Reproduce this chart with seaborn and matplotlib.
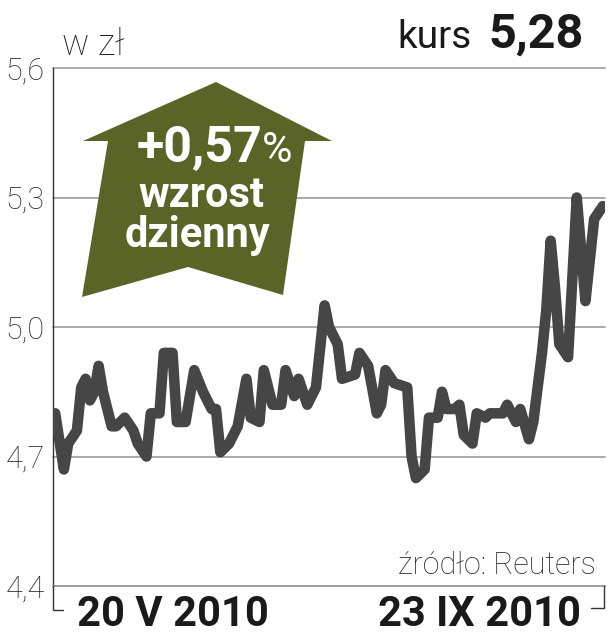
import pandas as pd
import seaborn as sns
import matplotlib.pyplot as plt
from matplotlib.patches import Polygon

# kurs akcji, 20 V 2010 - 23 IX 2010 (dni od 20 V)
dni = [0, 2, 3, 5, 6, 7, 8, 9, 10, 11, 13, 14, 16, 18, 19, 21, 22, 24, 25, 27,
       28, 30, 32, 34, 36, 37, 38, 40, 42, 44, 45, 47, 48, 50, 52, 53, 55, 56, 58, 60,
       62, 63, 65, 66, 69, 70, 72, 74, 75, 76, 78, 81, 82, 83, 85, 86, 88, 89, 90, 92,
       93, 94, 96, 97, 99, 100, 103, 104, 106, 107, 109, 110, 112, 113, 114, 115, 116, 118, 120, 121,
       122, 124, 126]
kurs = [4.80, 4.67, 4.73, 4.76, 4.86, 4.88, 4.83, 4.85, 4.91, 4.85,
        4.77, 4.77, 4.79, 4.76, 4.73, 4.70, 4.80, 4.80, 4.94, 4.94,
        4.78, 4.78, 4.90, 4.85, 4.81, 4.81, 4.71, 4.73, 4.77, 4.88,
        4.79, 4.78, 4.90, 4.82, 4.82, 4.90, 4.84, 4.88, 4.82, 4.86,
        5.05, 5.00, 4.96, 4.88, 4.89, 4.94, 4.91, 4.80, 4.82, 4.90,
        4.87, 4.86, 4.70, 4.65, 4.67, 4.79, 4.79, 4.85, 4.81, 4.81,
        4.82, 4.75, 4.73, 4.80, 4.79, 4.80, 4.80, 4.82, 4.78, 4.81,
        4.74, 4.78, 4.94, 5.04, 5.20, 5.09, 4.96, 4.93, 5.30, 5.18,
        5.06, 5.25, 5.28]
y_ticks = [4.4, 4.7, 5.0, 5.3, 5.6]
y_labels = ['4,4', '4,7', '5,0', '5,3', '5,6']
data_od, data_do = '20 V 2010', '23 IX 2010'
ostatni_kurs = '5,28'
zmiana = '+0,57'

df = pd.DataFrame({'dzien': dni, 'kurs': kurs})

sns.set_style('white')
plt.rcParams['font.family'] = ['Roboto', 'DejaVu Sans']

W, H = 608, 640
fig = plt.figure(figsize=(W / 100, H / 100), dpi=100)
ax = fig.add_axes([53 / W, 1 - 586 / H, (605 - 53) / W, (586 - 68) / H])


def fx(px):
    return px / W


def fy(py):
    return 1 - py / H


# grid
ax.set_ylim(4.4, 5.6)
ax.set_xlim(-0.5, 126.5)
ax.set_yticks(y_ticks)
ax.set_yticklabels(y_labels, fontsize=22, fontweight='light', color='#2a2a2a')
ax.set_xticks([])
ax.tick_params(axis='y', length=0, pad=6)
ax.yaxis.grid(True, color='#9c9c9c', linewidth=1.2)
for gl in ax.get_ygridlines():
    gl.set_clip_on(False)
ax.set_axisbelow(True)

sns.lineplot(data=df, x='dzien', y='kurs', ax=ax, color='#464646', linewidth=7.6,
             solid_capstyle='round', solid_joinstyle='round', zorder=3)
ax.set_xlabel('')
ax.set_ylabel('')

for s in ['top', 'right']:
    ax.spines[s].set_visible(False)
ax.spines['bottom'].set_color('#9c9c9c')
ax.spines['bottom'].set_linewidth(1.2)
ax.spines['left'].set_color('#333333')
ax.spines['left'].set_linewidth(1.0)

# brackets under the axis
fig.add_artist(plt.Line2D([fx(53), fx(53), fx(63)], [fy(586), fy(610), fy(610)],
                          color='#333333', linewidth=1.0))
fig.add_artist(plt.Line2D([fx(604), fx(604), fx(591)], [fy(586), fy(608), fy(608)],
                          color='#333333', linewidth=1.0))

# arrow
arrow = Polygon([(fx(216), fy(82)), (fx(332), fy(141)), (fx(305), fy(141)),
                 (fx(283), fy(295)), (fx(188), fy(267)), (fx(82), fy(297)),
                 (fx(108), fy(141)), (fx(83), fy(141))],
                closed=True, transform=fig.transFigure, facecolor='#5b6427',
                edgecolor='none', zorder=5)
fig.patches.append(arrow)
fig.text(fx(262), fy(162), zmiana, ha='right', va='baseline', fontsize=36,
         fontweight='bold', color='white', zorder=6)
fig.text(fx(262), fy(162), '%', ha='left', va='baseline', fontsize=30,
         color='white', zorder=6)
fig.text(fx(201), fy(207), 'wzrost', ha='center', va='baseline', fontsize=30,
         fontweight='bold', color='white', zorder=6)
fig.text(fx(197), fy(247), 'dzienny', ha='center', va='baseline', fontsize=30,
         fontweight='bold', color='white', zorder=6)

# headers
fig.text(fx(62), fy(55), 'w zł', ha='left', va='baseline', fontsize=26,
         fontweight='light', color='#222222')
fig.text(fx(472), fy(48), 'kurs', ha='right', va='baseline', fontsize=28,
         color='#1a1a1a')
fig.text(fx(584), fy(48), ostatni_kurs, ha='right', va='baseline', fontsize=35,
         fontweight='bold', color='#1a1a1a')

# footer
fig.text(fx(596), fy(574), 'źródło: Reuters', ha='right', va='baseline', fontsize=22,
         fontweight='light', color='#2a2a2a')
fig.text(fx(173), fy(626), data_od, ha='center', va='baseline', fontsize=30,
         fontweight='bold', color='#1a1a1a')
fig.text(fx(480), fy(626), data_do, ha='center', va='baseline', fontsize=30,
         fontweight='bold', color='#1a1a1a')

fig.savefig('out.png', dpi=100, facecolor='white')
